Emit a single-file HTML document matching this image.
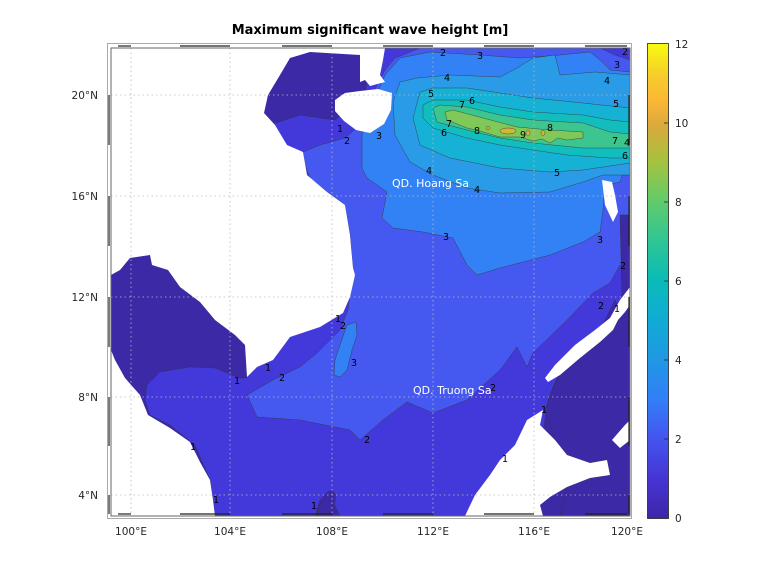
<!DOCTYPE html>
<html><head><meta charset="utf-8"><style>
body{margin:0;background:#fff;}
svg{display:block;font-family:"DejaVu Sans","Liberation Sans",sans-serif;}
</style></head><body>
<svg width="778" height="583" viewBox="0 0 778 583" xmlns="http://www.w3.org/2000/svg">
<defs>
<linearGradient id="cb" x1="0" y1="1" x2="0" y2="0">
<stop offset="0" stop-color="#3e26a8"/><stop offset="0.08" stop-color="#4534d2"/>
<stop offset="0.167" stop-color="#4454ef"/><stop offset="0.25" stop-color="#337ef8"/>
<stop offset="0.333" stop-color="#2097e3"/><stop offset="0.42" stop-color="#11acd4"/>
<stop offset="0.5" stop-color="#0abbb8"/><stop offset="0.58" stop-color="#2dc596"/>
<stop offset="0.667" stop-color="#60cb6c"/><stop offset="0.75" stop-color="#a4c23e"/>
<stop offset="0.83" stop-color="#dca93c"/><stop offset="0.88" stop-color="#fcb834"/>
<stop offset="0.93" stop-color="#f5cb2d"/><stop offset="1" stop-color="#f9fb0e"/>
</linearGradient>
<clipPath id="ax"><rect x="111" y="48" width="519" height="468"/></clipPath>
</defs>
<text x="370" y="34" text-anchor="middle" font-size="13" font-weight="bold" fill="#000">Maximum significant wave height [m]</text>
<g clip-path="url(#ax)" stroke="#333" stroke-width="0.4">
<rect x="111" y="48" width="519" height="468" fill="#3b29a6" stroke="none"/>
<polygon fill="#4339db" points="270,125 300,115 335,120 365,95 370,60 380,48 630,48 630,330 615,300 600,330 575,355 560,370 548,400 545,420 540,445 520,455 500,470 480,490 465,516 340,516 330,495 320,500 315,516 215,516 210,480 195,445 170,425 150,415 145,400 147,385 160,372 190,367 215,368 240,378 247,378 247,330 250,250"/>
<polygon fill="#4559f0" points="303,152 320,145 345,138 360,125 372,95 385,70 395,58 420,48 600,48 615,55 630,60 630,270 620,265 610,283 593,293 567,320 533,353 527,367 517,347 500,370 467,400 433,413 407,402 383,420 360,440 350,430 300,420 257,417 247,395 273,380 300,367 317,353 340,330 348,310 353,270 350,235 345,205 327,192 310,178 305,165"/>
<polygon fill="#3282f5" points="362,135 370,110 385,75 400,58 430,52 480,55 520,58 560,55 590,52 600,60 610,70 630,72 630,150 620,182 605,185 603,210 600,232 583,242 550,255 500,268 477,275 467,265 453,238 423,232 393,228 382,218 387,192 367,178 362,168"/>
<polygon fill="#3282f5" points="347,325 356,322 357,335 352,350 347,370 340,377 334,375 335,360 340,345"/>
<polygon fill="#2a9be6" points="400,82 417,78 450,75 500,77 517,68 533,58 555,55 560,75 595,72 630,75 630,175 603,175 583,182 550,192 500,193 467,188 433,175 410,162 395,135 393,102"/>
<polygon fill="#16b2d6" points="420,92 433,88 467,88 500,93 533,98 573,102 630,108 630,163 583,170 550,172 500,168 450,158 420,145 413,118"/>
<polygon fill="#12bdbd" points="423,105 433,100 467,100 500,107 533,112 583,115 610,120 630,122 630,158 610,158 567,155 533,150 500,145 467,138 433,128 423,118"/>
<polygon fill="#3dc58f" points="433,108 440,105 467,107 500,115 533,120 583,123 610,132 630,134 630,148 610,148 583,148 533,143 500,138 467,130 437,122"/>
<polygon fill="#80c857" points="445,112 453,110 483,118 517,127 550,130 583,132 583,138 567,140 558,138 550,143 542,139 533,141 520,137 500,137 480,131 467,128 447,120"/>
<ellipse cx="508" cy="131" rx="8" ry="3" fill="#d3b53a"/>
<ellipse cx="528" cy="133" rx="2" ry="3" fill="#d3b53a"/>
<ellipse cx="488" cy="128" rx="2" ry="1.5" fill="#d3b53a"/>
<ellipse cx="543" cy="133" rx="2" ry="2.5" fill="#d3b53a"/>
<polygon fill="#3b29a6" points="630,300 613,330 600,342 580,358 560,375 550,395 545,410 555,440 567,455 590,463 607,460 610,475 590,478 567,487 560,516 630,516"/>
<polygon fill="#3b29a6" points="620,215 630,215 630,300 622,300"/>
<ellipse cx="327" cy="505" rx="7" ry="15" fill="#3b29a6" transform="rotate(20 327 505)"/>
<g fill="#fff" stroke="none">
<polygon points="111,48 385,48 383,60 380,75 385,82 370,86 365,80 360,82 360,55 310,52 300,55 290,58 280,75 268,95 264,113 275,125 287,145 303,152 307,175 327,192 345,205 350,235 353,268 355,275 350,297 343,313 320,327 290,337 273,360 257,367 247,377 245,345 235,335 215,320 200,302 180,287 168,270 152,265 150,255 130,258 120,270 111,275"/>
<polygon points="335,100 345,93 360,91 378,89 392,93 391,110 384,124 370,133 356,130 344,121 335,111"/>
<polygon points="111,350 115,360 125,378 140,395 148,415 170,428 190,442 200,462 210,480 213,500 215,516 111,516"/>
<polygon points="465,516 475,495 490,475 500,460 515,445 527,420 543,410 540,425 555,440 567,455 590,463 607,460 610,475 590,478 567,487 550,497 540,505 543,516"/>
<polygon points="630,287 620,300 610,318 595,330 575,345 555,365 545,378 548,382 560,375 580,358 600,342 613,330 618,320 625,312 630,305"/>
<polygon points="602,180 612,182 615,195 618,212 613,222 605,205"/>
<polygon points="612,440 625,425 630,420 630,440 620,448"/>
</g>
</g>
<g stroke="#bbb" stroke-width="0.8" stroke-dasharray="1.5,3">
<line x1="131" y1="48" x2="131" y2="516"/><line x1="230" y1="48" x2="230" y2="516"/>
<line x1="332" y1="48" x2="332" y2="516"/><line x1="433" y1="48" x2="433" y2="516"/>
<line x1="534" y1="48" x2="534" y2="516"/>
<line x1="111" y1="95" x2="630" y2="95"/><line x1="111" y1="196" x2="630" y2="196"/>
<line x1="111" y1="297" x2="630" y2="297"/><line x1="111" y1="397" x2="630" y2="397"/>
<line x1="111" y1="495" x2="630" y2="495"/>
</g>
<g font-size="9.5" fill="#000">
<text x="440" y="56">2</text><text x="477" y="59">3</text><text x="622" y="55">2</text><text x="614" y="68">3</text>
<text x="444" y="81">4</text><text x="604" y="84">4</text><text x="428" y="97">5</text><text x="613" y="107">5</text>
<text x="469" y="104">6</text><text x="459" y="108">7</text><text x="446" y="127">7</text><text x="441" y="136">6</text>
<text x="474" y="134">8</text><text x="520" y="138">9</text><text x="547" y="131">8</text><text x="612" y="144">7</text>
<text x="624" y="146">4</text><text x="622" y="159">6</text><text x="554" y="176">5</text><text x="426" y="174">4</text>
<text x="474" y="193">4</text><text x="337" y="132">1</text><text x="344" y="144">2</text><text x="376" y="139">3</text>
<text x="443" y="240">3</text><text x="597" y="243">3</text><text x="620" y="269">2</text><text x="598" y="309">2</text>
<text x="614" y="312">1</text><text x="335" y="322">1</text><text x="340" y="329">2</text>
<text x="351" y="366">3</text><text x="265" y="371">1</text><text x="279" y="381">2</text><text x="234" y="384">1</text>
<text x="490" y="391">2</text><text x="364" y="443">2</text><text x="541" y="413">1</text><text x="502" y="462">1</text>
<text x="190" y="450">1</text><text x="213" y="503">1</text><text x="311" y="509">1</text>
</g>
<g font-size="11" fill="#fff">
<text x="392" y="187">QD. Hoang Sa</text>
<text x="413" y="394">QD. Truong Sa</text>
</g>
<rect x="107.5" y="43.5" width="524" height="475" fill="none" stroke="#aaa" stroke-width="1"/>
<rect x="111" y="48" width="519" height="468" fill="none" stroke="#666" stroke-width="1"/>
<g stroke="#222" stroke-width="1.2">
<line x1="118" y1="46" x2="131" y2="46"/><line x1="180" y1="46" x2="230" y2="46"/><line x1="282" y1="46" x2="332" y2="46"/><line x1="383" y1="46" x2="433" y2="46"/><line x1="484" y1="46" x2="534" y2="46"/><line x1="585" y1="46" x2="627" y2="46"/>
<line x1="118" y1="514" x2="131" y2="514"/><line x1="180" y1="514" x2="230" y2="514"/><line x1="282" y1="514" x2="332" y2="514"/><line x1="383" y1="514" x2="433" y2="514"/><line x1="484" y1="514" x2="534" y2="514"/><line x1="585" y1="514" x2="627" y2="514"/>
<line x1="109" y1="95" x2="109" y2="145"/><line x1="109" y1="196" x2="109" y2="246"/><line x1="109" y1="297" x2="109" y2="347"/><line x1="109" y1="397" x2="109" y2="446"/><line x1="109" y1="495" x2="109" y2="514"/>
<line x1="629" y1="95" x2="629" y2="145"/><line x1="629" y1="196" x2="629" y2="246"/><line x1="629" y1="297" x2="629" y2="347"/><line x1="629" y1="397" x2="629" y2="446"/><line x1="629" y1="495" x2="629" y2="514"/>
</g>
<g font-size="10.5" fill="#262626">
<text x="98" y="99" text-anchor="end">20°N</text><text x="98" y="200" text-anchor="end">16°N</text>
<text x="98" y="301" text-anchor="end">12°N</text><text x="98" y="401" text-anchor="end">8°N</text>
<text x="98" y="499" text-anchor="end">4°N</text>
<text x="131" y="535" text-anchor="middle">100°E</text><text x="230" y="535" text-anchor="middle">104°E</text>
<text x="332" y="535" text-anchor="middle">108°E</text><text x="433" y="535" text-anchor="middle">112°E</text>
<text x="534" y="535" text-anchor="middle">116°E</text><text x="627" y="535" text-anchor="middle">120°E</text>
</g>
<rect x="647.5" y="43.5" width="21" height="475" fill="url(#cb)" stroke="#262626" stroke-width="0.8"/>
<g stroke="#262626" stroke-width="0.8">
<line x1="664" y1="123" x2="668" y2="123"/><line x1="664" y1="202" x2="668" y2="202"/><line x1="664" y1="281" x2="668" y2="281"/><line x1="664" y1="360" x2="668" y2="360"/><line x1="664" y1="439" x2="668" y2="439"/>
</g>
<g font-size="10.5" fill="#262626">
<text x="675" y="48">12</text><text x="675" y="127">10</text><text x="675" y="206">8</text>
<text x="675" y="285">6</text><text x="675" y="364">4</text><text x="675" y="443">2</text><text x="675" y="522">0</text>
</g>
</svg>
</body></html>
